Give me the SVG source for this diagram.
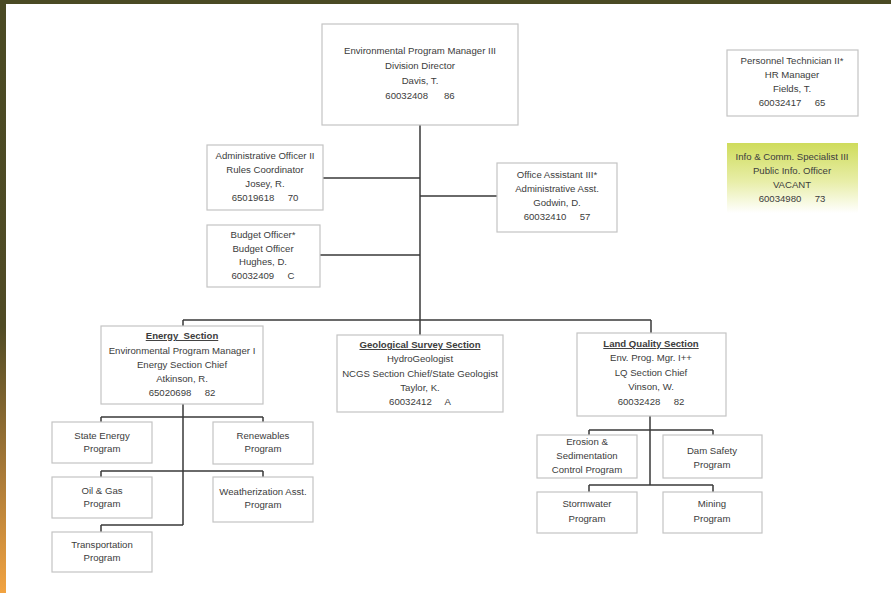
<svg xmlns="http://www.w3.org/2000/svg" width="891" height="593" viewBox="0 0 891 593" xml:space="preserve">
<defs>
<linearGradient id="side" x1="0" y1="0" x2="0" y2="1">
<stop offset="0" stop-color="#4a4a24"/>
<stop offset="0.55" stop-color="#504b25"/>
<stop offset="0.8" stop-color="#a97a38"/>
<stop offset="1" stop-color="#f2a341"/>
</linearGradient>
<linearGradient id="info" x1="0" y1="0" x2="0" y2="1">
<stop offset="0" stop-color="#cfdc5c"/>
<stop offset="0.55" stop-color="#e8eea8"/>
<stop offset="1" stop-color="#ffffff"/>
</linearGradient>
</defs>
<style>
.box{fill:#fff;stroke:#c4c4c4;stroke-width:1.2}
.t{font-family:"Liberation Sans",Arial,sans-serif;font-size:9.6px;fill:#3c3c3c;text-anchor:middle;white-space:pre}
.u{text-decoration:underline;font-weight:bold}
.c{fill:none;stroke:#3a3a3a;stroke-width:1.5}
</style>
<rect width="891" height="593" fill="#fff"/>
<rect x="0" y="0" width="891" height="4" fill="#4a4a24"/>
<rect x="0" y="0" width="6" height="593" fill="url(#side)"/>
<g id="connectors">
<path class="c" d="M420 125 V320 M323 178 H420 M420 196 H497 M320 255 H420 M183 320 H651 M183 320 V326 M420 320 V335 M651 320 V333"/>
<path class="c" d="M183 404 V525 M101 417 H263 M101 417 V422 M263 417 V422 M101 471 H263 M101 471 V477 M263 471 V477 M101 525 H183 M101 525 V532"/>
<path class="c" d="M650 416 V485 M589 430 H713 M589 430 V435 M713 430 V435 M589 485 H713 M589 485 V492 M713 485 V492"/>
</g>
<g id="director">
<rect class="box" x="322" y="24" width="196" height="101"/>
<text class="t" x="420" y="54">Environmental Program Manager III</text>
<text class="t" x="420" y="69">Division Director</text>
<text class="t" x="420" y="84">Davis, T.</text>
<text class="t" x="420" y="99">60032408      86</text>
</g>
<g id="hr">
<rect class="box" x="727" y="50" width="131" height="66"/>
<text class="t" x="792" y="64">Personnel Technician II*</text>
<text class="t" x="792" y="78">HR Manager</text>
<text class="t" x="792" y="92">Fields, T.</text>
<text class="t" x="792" y="106">60032417     65</text>
</g>
<g id="info-officer">
<rect x="727" y="143" width="131" height="70" fill="url(#info)"/>
<text class="t" x="792" y="160">Info &amp; Comm. Specialist III</text>
<text class="t" x="792" y="174">Public Info. Officer</text>
<text class="t" x="792" y="188">VACANT</text>
<text class="t" x="792" y="202">60034980     73</text>
</g>
<g id="admin-officer">
<rect class="box" x="207" y="145" width="116" height="65"/>
<text class="t" x="265" y="159">Administrative Officer II</text>
<text class="t" x="265" y="173">Rules Coordinator</text>
<text class="t" x="265" y="187">Josey, R.</text>
<text class="t" x="265" y="201">65019618     70</text>
</g>
<g id="budget-officer">
<rect class="box" x="207" y="225" width="113" height="62"/>
<text class="t" x="263" y="238">Budget Officer*</text>
<text class="t" x="263" y="252">Budget Officer</text>
<text class="t" x="263" y="265">Hughes, D.</text>
<text class="t" x="263" y="279">60032409     C</text>
</g>
<g id="office-assistant">
<rect class="box" x="497" y="163" width="120" height="69"/>
<text class="t" x="557" y="178">Office Assistant III*</text>
<text class="t" x="557" y="192">Administrative Asst.</text>
<text class="t" x="557" y="206">Godwin, D.</text>
<text class="t" x="557" y="220">60032410     57</text>
</g>
<g id="energy-section">
<rect class="box" x="101" y="326" width="162" height="78"/>
<text class="t u" x="182" y="339">Energy  Section</text>
<text class="t" x="182" y="354">Environmental Program Manager I</text>
<text class="t" x="182" y="368">Energy Section Chief</text>
<text class="t" x="182" y="382">Atkinson, R.</text>
<text class="t" x="182" y="396">65020698     82</text>
</g>
<g id="geological-section">
<rect class="box" x="337" y="335" width="166" height="77"/>
<text class="t u" x="420" y="348">Geological Survey Section</text>
<text class="t" x="420" y="362">HydroGeologist</text>
<text class="t" x="420" y="377">NCGS Section Chief/State Geologist</text>
<text class="t" x="420" y="391">Taylor, K.</text>
<text class="t" x="420" y="405">60032412     A</text>
</g>
<g id="land-quality-section">
<rect class="box" x="577" y="333" width="149" height="83"/>
<text class="t u" x="651" y="347">Land Quality Section</text>
<text class="t" x="651" y="361">Env. Prog. Mgr. I++</text>
<text class="t" x="651" y="376">LQ Section Chief</text>
<text class="t" x="651" y="390">Vinson, W.</text>
<text class="t" x="651" y="405">60032428     82</text>
</g>
<g id="state-energy">
<rect class="box" x="52" y="422" width="100" height="41"/>
<text class="t" x="102" y="439">State Energy</text>
<text class="t" x="102" y="452">Program</text>
</g>
<g id="renewables">
<rect class="box" x="213" y="422" width="100" height="42"/>
<text class="t" x="263" y="439">Renewables</text>
<text class="t" x="263" y="452">Program</text>
</g>
<g id="oil-gas">
<rect class="box" x="52" y="477" width="100" height="41"/>
<text class="t" x="102" y="494">Oil &amp; Gas</text>
<text class="t" x="102" y="507">Program</text>
</g>
<g id="weatherization">
<rect class="box" x="213" y="477" width="100" height="45"/>
<text class="t" x="263" y="495">Weatherization Asst.</text>
<text class="t" x="263" y="508">Program</text>
</g>
<g id="transportation">
<rect class="box" x="52" y="532" width="100" height="40"/>
<text class="t" x="102" y="548">Transportation</text>
<text class="t" x="102" y="561">Program</text>
</g>
<g id="erosion">
<rect class="box" x="537" y="435" width="100" height="43"/>
<text class="t" x="587" y="445">Erosion &amp;</text>
<text class="t" x="587" y="459">Sedimentation</text>
<text class="t" x="587" y="473">Control Program</text>
</g>
<g id="dam-safety">
<rect class="box" x="663" y="435" width="99" height="43"/>
<text class="t" x="712" y="454">Dam Safety</text>
<text class="t" x="712" y="468">Program</text>
</g>
<g id="stormwater">
<rect class="box" x="537" y="492" width="100" height="41"/>
<text class="t" x="587" y="507">Stormwater</text>
<text class="t" x="587" y="522">Program</text>
</g>
<g id="mining">
<rect class="box" x="663" y="492" width="99" height="41"/>
<text class="t" x="712" y="507">Mining</text>
<text class="t" x="712" y="522">Program</text>
</g>
</svg>
